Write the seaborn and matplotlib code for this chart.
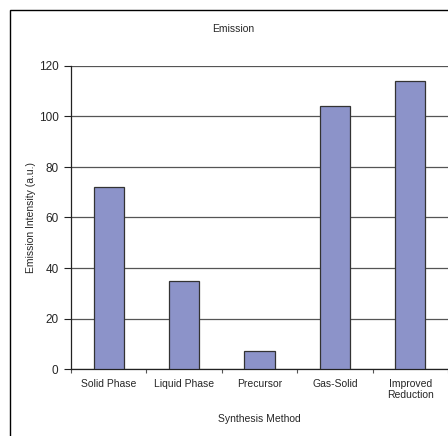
import numpy as np
import pandas as pd
import matplotlib
matplotlib.use("Agg")
import matplotlib.pyplot as plt
from matplotlib.patches import Rectangle
import seaborn as sns

# DATA
methods = ["Solid Phase", "Liquid Phase", "Precursor", "Gas-Solid", "Improved\nReduction"]
intensity = [72, 35, 7, 104, 114]

data = pd.DataFrame({"Method": methods, "Intensity": intensity})

sns.set_style("white")
plt.rcParams["font.family"] = ["Liberation Sans", "DejaVu Sans"]

fig = plt.figure(figsize=(4.48, 4.36), dpi=100)
ax = fig.add_axes([71 / 448, 67 / 436, 377 / 448, 303 / 436])

sns.barplot(data=data, x="Method", y="Intensity", color="#8c93c9",
            edgecolor="#333333", linewidth=0.9, width=0.4, saturation=1, ax=ax, zorder=3)

# axes styling (Excel-like)
ax.set_ylim(0, 120)
ax.set_yticks(np.arange(0, 121, 20))
ax.set_xlim(-0.5, 4.5)
ax.yaxis.grid(True, color="#555555", linewidth=0.9, zorder=0)
ax.set_axisbelow(True)
for side in ["top", "right"]:
    ax.spines[side].set_visible(False)
ax.spines["left"].set_color("#222222")
ax.spines["bottom"].set_color("#222222")
ax.spines["left"].set_linewidth(0.9)
ax.spines["bottom"].set_linewidth(0.9)

ax.tick_params(axis="y", which="major", direction="out", length=5, width=0.8,
               color="#222222", labelsize=8.5, pad=4, left=True)
ax.tick_params(axis="x", which="major", length=0, labelsize=7.5, pad=7)
ax.set_xticks(np.arange(-0.5, 4.6, 1), minor=True)
ax.tick_params(axis="x", which="minor", direction="out", length=3, width=0.8,
               color="#555555", bottom=True)

ax.set_xlabel("Synthesis Method", fontsize=7.5, labelpad=10)
ax.set_ylabel("Emission Intensity (a.u.)", fontsize=7.5, labelpad=2)
fig.text(233 / 448, 1 - 29 / 436, "Emission", ha="center", va="center", fontsize=7.5)

# outer chart frame
fig.patches.append(Rectangle((10 / 448, -0.1), 1.2, 1.1 - 10 / 436,
                             transform=fig.transFigure, fill=False,
                             edgecolor="black", linewidth=1.0))

fig.savefig("out.png", dpi=100)
